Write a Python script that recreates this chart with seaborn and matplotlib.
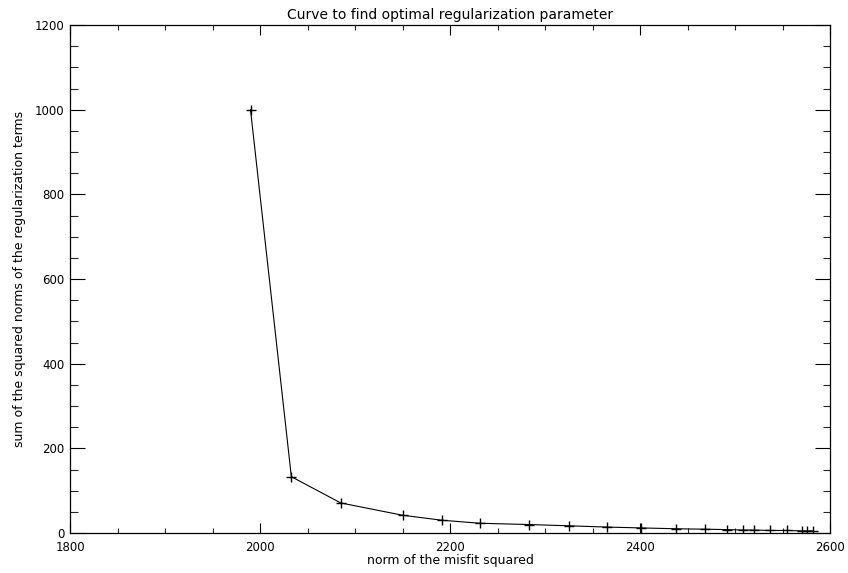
import matplotlib
matplotlib.use("Agg")
import matplotlib.pyplot as plt
from matplotlib.ticker import MultipleLocator
import seaborn as sns
import pandas as pd

misfit = [1990, 2033, 2085, 2150, 2192, 2232, 2283, 2325, 2365, 2401,
          2438, 2468, 2492, 2508, 2520, 2537, 2555, 2570, 2576, 2582]
reg_norms = [1000, 133, 71, 42, 30, 23, 20, 17, 14, 12,
             10, 9, 8, 7, 7, 6, 6, 5, 5, 5]

title = "Curve to find optimal regularization parameter"
xlabel = "norm of the misfit squared"
ylabel = "sum of the squared norms of the regularization terms"

sns.set_style("ticks")
plt.rcParams['font.family'] = ['DejaVu Sans']

df = pd.DataFrame({"x": misfit, "y": reg_norms})

fig = plt.figure(figsize=(8.48, 5.73), dpi=100)
ax = fig.add_axes([70/848, 40/573, 760/848, 508/573])

sns.lineplot(data=df, x="x", y="y", ax=ax, sort=False, estimator=None,
             color="black", linewidth=0.8, marker="+", markersize=6.5,
             markeredgewidth=1.0, markeredgecolor="black")

ax.set_xlim(1800, 2600)
ax.set_ylim(0, 1200)
ax.xaxis.set_major_locator(MultipleLocator(200))
ax.xaxis.set_minor_locator(MultipleLocator(50))
ax.yaxis.set_major_locator(MultipleLocator(200))
ax.yaxis.set_minor_locator(MultipleLocator(50))

ax.tick_params(axis="x", which="major", direction="in", length=7.2, width=0.8,
               top=True, bottom=True, labelsize=8.5, pad=6, colors="black")
ax.tick_params(axis="x", which="minor", direction="in", length=3.6, width=0.8,
               top=True, bottom=True)
ax.tick_params(axis="y", which="major", direction="in", length=10.8, width=0.8,
               left=True, right=True, labelsize=8.5, pad=4, colors="black")
ax.tick_params(axis="y", which="minor", direction="in", length=5.4, width=0.8,
               left=True, right=True)

for s in ax.spines.values():
    s.set_visible(True)
    s.set_color("black")
    s.set_linewidth(0.9)

ax.set_title(title, fontsize=10, pad=4, color="black")
ax.set_xlabel(xlabel, fontsize=9, labelpad=0, color="black")
ax.set_ylabel(ylabel, fontsize=9, labelpad=6, color="black")

fig.savefig("out.png", dpi=100)
